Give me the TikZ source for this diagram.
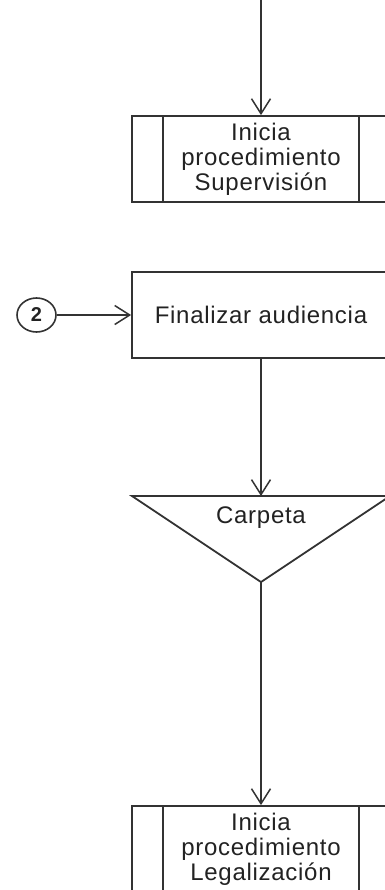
\documentclass[tikz,border=0pt]{standalone}
\usepackage{fontspec}
\setmainfont{Liberation Sans}[LetterSpace=3]
\usetikzlibrary{arrows.meta,calc,shapes.geometric}
\definecolor{ln}{HTML}{333333}
\definecolor{tx}{HTML}{222222}
\tikzset{
  flowline/.style={draw=ln, line width=0.75pt},
  arr/.style={flowline, -{Straight Barb[length=7.5pt,width=9.5pt,line width=0.75pt]}},
  procbox/.style={draw=ln, line width=0.9pt, rectangle, minimum width=129pt, minimum height=43pt, inner sep=0pt, text=tx, align=center, font=\fontsize{12}{12.5}\selectfont},
  lbl/.style={text=tx, inner sep=0pt, font=\fontsize{12}{12.5}\selectfont},
  conn/.style={draw=ln, line width=0.8pt, ellipse, minimum width=19.5pt, minimum height=17pt, inner sep=0pt, text=tx, font=\fontsize{10}{10}\selectfont\bfseries}
}
\begin{document}
\begin{tikzpicture}[x=0.5pt,y=-0.5pt]
\useasboundingbox (0,0) rectangle (385,890);
\clip (0,0) rectangle (385,890);
% top entry
\coordinate (top) at (261,0);
% box 1
\node[procbox] (b1) at (261,159) {Inicia\\procedimiento\\Supervisión};
\draw[flowline] ($(b1.north west)+(16pt,0)$) -- ($(b1.south west)+(16pt,0)$);
\draw[flowline] ($(b1.north east)+(-16pt,0)$) -- ($(b1.south east)+(-16pt,0)$);
\draw[arr] (top) -- (b1.north);
% box 2
\node[procbox] (b2) at (261,315) {Finalizar audiencia};
\node[conn] (c2) at (36.5,315) {2};
\draw[arr] (c2.east) -- (b2.west);
% triangle
\coordinate (tl) at (132,496);
\coordinate (tr) at (390,496);
\coordinate (tt) at (261,496);
\coordinate (apex) at (261,582);
\draw[draw=ln, line width=0.9pt, line join=miter] (tl) -- (tr) -- (apex) -- cycle;
\node[lbl] (carpeta) at (261,518) {Carpeta};
\draw[arr] (b2.south) -- (tt);
% box 3
\node[procbox] (b3) at (261,849) {Inicia\\procedimiento\\Legalización};
\draw[flowline] ($(b3.north west)+(16pt,0)$) -- ($(b3.south west)+(16pt,0)$);
\draw[flowline] ($(b3.north east)+(-16pt,0)$) -- ($(b3.south east)+(-16pt,0)$);
\draw[arr] (apex) -- (b3.north);
\end{tikzpicture}
\end{document}
